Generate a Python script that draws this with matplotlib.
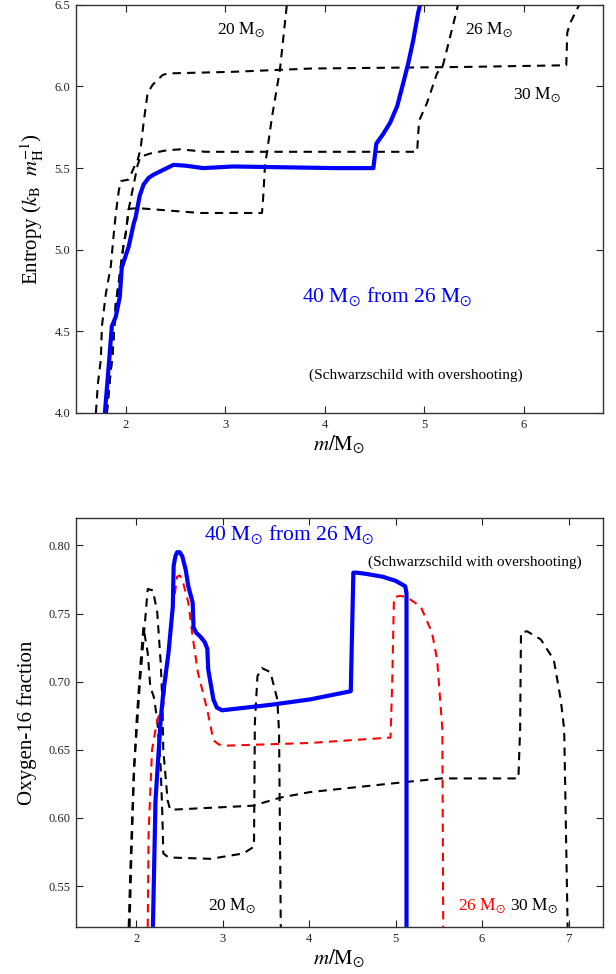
import matplotlib
matplotlib.use("Agg")
import matplotlib.pyplot as plt

plt.rcParams['font.family'] = ['Liberation Serif', 'DejaVu Serif']
plt.rcParams['mathtext.fontset'] = 'stix'

# ---------------- Top panel: entropy ----------------
s40_m = [1.79, 1.82, 1.86, 1.90, 1.94, 1.96, 2.03, 2.08, 2.10, 2.14, 2.18, 2.23, 2.28, 2.38, 2.48, 2.60, 2.78, 3.08, 3.6, 4.1, 4.49, 4.51, 4.52, 4.59, 4.66, 4.73, 4.79, 4.84, 4.89, 4.94, 4.96]
s40_s = [4.00, 4.22, 4.53, 4.59, 4.71, 4.89, 5.02, 5.16, 5.20, 5.33, 5.40, 5.44, 5.46, 5.49, 5.52, 5.515, 5.50, 5.51, 5.505, 5.50, 5.50, 5.60, 5.65, 5.71, 5.78, 5.88, 6.02, 6.14, 6.28, 6.45, 6.50]

s20_m = [1.81, 1.84, 1.87, 1.90, 1.93, 1.98, 2.00, 2.03, 2.12, 2.75, 3.37, 3.38, 3.40, 3.47, 3.55, 3.62]
s20_s = [4.00, 4.20, 4.38, 4.67, 4.80, 5.04, 5.10, 5.25, 5.255, 5.225, 5.225, 5.30, 5.51, 5.81, 6.10, 6.50]

s26_m = [1.81, 1.84, 1.87, 1.90, 1.93, 1.98, 2.00, 2.03, 2.08, 2.12, 2.15, 2.25, 2.42, 2.55, 2.80, 3.5, 4.2, 4.93, 4.95, 5.03, 5.13, 5.19, 5.26, 5.33, 5.34]
s26_s = [4.00, 4.20, 4.38, 4.67, 4.80, 5.04, 5.10, 5.25, 5.40, 5.52, 5.57, 5.59, 5.61, 5.615, 5.60, 5.60, 5.60, 5.60, 5.79, 5.90, 6.08, 6.13, 6.30, 6.47, 6.50]

s30_m = [1.70, 1.72, 1.75, 1.76, 1.80, 1.85, 1.88, 1.90, 1.93, 1.95, 2.03, 2.08, 2.12, 2.15, 2.18, 2.22, 2.27, 2.37, 2.42, 3.08, 3.86, 5.43, 6.43, 6.44, 6.47, 6.56]
s30_s = [4.00, 4.18, 4.33, 4.53, 4.73, 4.90, 5.10, 5.22, 5.36, 5.42, 5.43, 5.50, 5.55, 5.62, 5.78, 5.96, 6.01, 6.07, 6.08, 6.09, 6.11, 6.12, 6.13, 6.33, 6.39, 6.50]

# ---------------- Bottom panel: oxygen-16 ----------------
o40_m = [2.19, 2.22, 2.28, 2.31, 2.37, 2.42, 2.43, 2.45, 2.47, 2.50, 2.53, 2.57, 2.60, 2.65, 2.66, 2.69, 2.74, 2.79, 2.82, 2.83, 2.89, 2.93, 2.99, 3.55, 4.01, 4.48, 4.51, 4.55, 4.67, 4.85, 5.00, 5.11, 5.125, 5.125]
o40_x = [0.52, 0.613, 0.672, 0.692, 0.721, 0.755, 0.785, 0.792, 0.795, 0.795, 0.792, 0.782, 0.770, 0.758, 0.740, 0.736, 0.733, 0.729, 0.724, 0.709, 0.687, 0.681, 0.679, 0.683, 0.687, 0.693, 0.780, 0.780, 0.779, 0.777, 0.774, 0.770, 0.765, 0.52]

o26_m = [2.13, 2.14, 2.18, 2.24, 2.31, 2.37, 2.43, 2.47, 2.50, 2.53, 2.60, 2.65, 2.71, 2.82, 2.89, 2.95, 3.01, 4.0, 4.94, 4.96, 4.98, 5.05, 5.13, 5.29, 5.42, 5.48, 5.52, 5.54, 5.55]
o26_x = [0.52, 0.589, 0.650, 0.672, 0.682, 0.720, 0.758, 0.777, 0.778, 0.775, 0.758, 0.733, 0.707, 0.679, 0.657, 0.654, 0.653, 0.655, 0.659, 0.700, 0.762, 0.763, 0.762, 0.755, 0.736, 0.716, 0.682, 0.665, 0.52]

o20_m = [1.92, 1.94, 1.97, 2.00, 2.05, 2.08, 2.13, 2.16, 2.20, 2.24, 2.28, 2.30, 2.31, 2.37, 2.86, 3.24, 3.36, 3.37, 3.40, 3.45, 3.55, 3.63, 3.65, 3.67]
o20_x = [0.52, 0.570, 0.630, 0.670, 0.716, 0.740, 0.721, 0.696, 0.689, 0.672, 0.637, 0.601, 0.574, 0.571, 0.570, 0.574, 0.579, 0.670, 0.704, 0.710, 0.707, 0.687, 0.663, 0.52]

o30_m = [1.91, 1.93, 1.97, 2.01, 2.04, 2.08, 2.10, 2.13, 2.19, 2.24, 2.28, 2.30, 2.31, 2.36, 2.39, 3.35, 3.67, 4.01, 5.06, 5.52, 6.42, 6.44, 6.45, 6.52, 6.68, 6.83, 6.91, 6.95, 6.99]
o30_x = [0.52, 0.564, 0.637, 0.671, 0.700, 0.730, 0.745, 0.768, 0.767, 0.751, 0.714, 0.685, 0.650, 0.613, 0.606, 0.609, 0.615, 0.619, 0.626, 0.629, 0.629, 0.665, 0.736, 0.737, 0.731, 0.716, 0.687, 0.665, 0.52]

top_xticks = [2, 3, 4, 5, 6]
top_yticks = [4.0, 4.5, 5.0, 5.5, 6.0, 6.5]
bot_xticks = [2, 3, 4, 5, 6, 7]
bot_yticks = [0.55, 0.60, 0.65, 0.70, 0.75, 0.80]

MSUN = r'$\mathrm{M}_{\odot}$'
BLUE = '#0000ff'
RED = '#ff0000'

fig = plt.figure(figsize=(6.16, 9.74), dpi=100)
ax1 = fig.add_axes([0.1234, 0.576, 0.8556, 0.419])
ax2 = fig.add_axes([0.1234, 0.0483, 0.8556, 0.4197])

dash = dict(color='black', lw=1.5, ls=(0, (4, 3)), dash_joinstyle='round')
solid = dict(color=BLUE, lw=3.0, solid_capstyle='butt', solid_joinstyle='round')

ax1.plot(s20_m, s20_s, **dash)
ax1.plot(s26_m, s26_s, **dash)
ax1.plot(s30_m, s30_s, **dash)
ax1.plot(s40_m, s40_s, **solid)

ax1.set_xlim(1.5, 6.8)
ax1.set_ylim(4.0, 6.5)
ax1.set_xticks(top_xticks)
ax1.set_yticks(top_yticks)
ax1.set_yticklabels([f'{v:.1f}' for v in top_yticks])
ax1.set_xlabel(r'$m/\mathrm{M}_{\odot}$', fontsize=15, labelpad=2)
ax1.set_ylabel(r'Entropy ($k_{\mathrm{B}}\ \ m_{\mathrm{H}}^{-1}$)', fontsize=15, labelpad=6)

ax1.text(3.16, 6.35, '20 ' + MSUN, fontsize=12.5, ha='center', va='center')
ax1.text(5.65, 6.35, '26 ' + MSUN, fontsize=12.5, ha='center', va='center')
ax1.text(6.14, 5.95, '30 ' + MSUN, fontsize=12.5, ha='center', va='center')
ax1.text(4.63, 4.71, '40 ' + MSUN + ' from 26 ' + MSUN, fontsize=15.5, color=BLUE, ha='center', va='center')
ax1.text(4.92, 4.23, '(Schwarzschild with overshooting)', fontsize=11, ha='center', va='center')

ax2.plot(o20_m, o20_x, **dash)
ax2.plot(o30_m, o30_x, **dash)
ax2.plot(o26_m, o26_x, color=RED, lw=1.5, ls=(0, (4, 3)), dash_joinstyle='round')
ax2.plot(o40_m, o40_x, **solid)

ax2.set_xlim(1.3, 7.4)
ax2.set_ylim(0.52, 0.82)
ax2.set_xticks(bot_xticks)
ax2.set_yticks(bot_yticks)
ax2.set_yticklabels([f'{v:.2f}' for v in bot_yticks])
ax2.set_xlabel(r'$m/\mathrm{M}_{\odot}$', fontsize=15, labelpad=2)
ax2.set_ylabel('Oxygen-16 fraction', fontsize=15, labelpad=8)

ax2.text(3.77, 0.808, '40 ' + MSUN + ' from 26 ' + MSUN, fontsize=15.5, color=BLUE, ha='center', va='center')
ax2.text(5.92, 0.788, '(Schwarzschild with overshooting)', fontsize=11, ha='center', va='center')
ax2.text(3.11, 0.536, '20 ' + MSUN, fontsize=12.5, ha='center', va='center')
ax2.text(6.0, 0.536, '26 ' + MSUN, fontsize=12.5, color=RED, ha='center', va='center')
ax2.text(6.6, 0.536, '30 ' + MSUN, fontsize=12.5, ha='center', va='center')

for ax in (ax1, ax2):
    ax.tick_params(direction='in', top=True, right=True, length=5, width=0.8,
                   labelsize=9, colors='#222222', pad=4)
    for sp in ax.spines.values():
        sp.set_linewidth(1.0)
        sp.set_color('#333333')

fig.savefig('out.png', dpi=100)
